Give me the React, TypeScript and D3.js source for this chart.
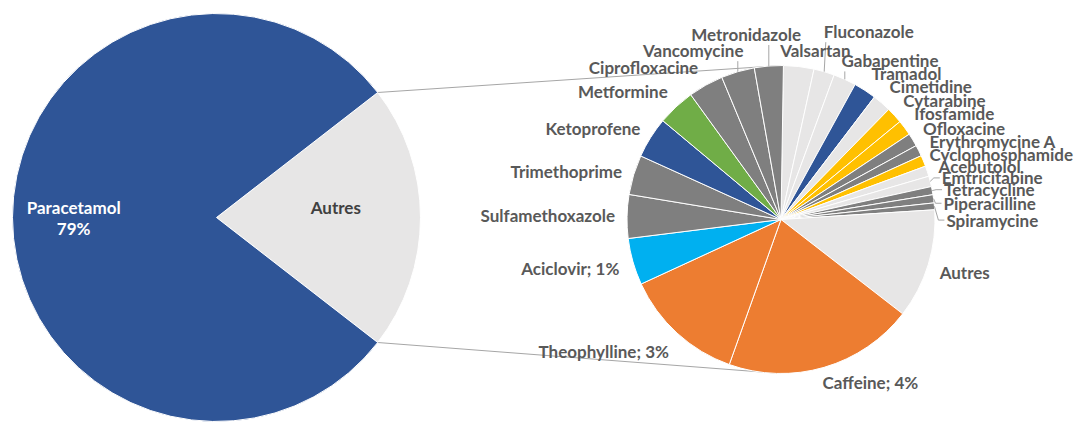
import * as d3 from "d3";

// ---- data -------------------------------------------------------------
const MAIN_NAME = "Paracetamol";
const MAIN_VALUE = 79;
const OTHER_NAME = "Autres";

const DETAIL_NAMES = [
  "Valsartan", "Fluconazole", "Gabapentine", "Tramadol", "Cimetidine",
  "Cytarabine", "Ifosfamide", "Ofloxacine", "Erythromycine A", "Cyclophosphamide",
  "Acebutolol", "Emtricitabine", "Tetracycline", "Piperacilline", "Spiramycine",
  "Autres", "Caffeine", "Theophylline", "Aciclovir", "Sulfamethoxazole",
  "Trimethoprime", "Ketoprofene", "Metformine", "Ciprofloxacine", "Vancomycine",
  "Metronidazole",
];
// share of the whole sample, in %
const DETAIL_VALUES = [
  0.67, 0.455, 0.5, 0.5, 0.41,
  0.36, 0.34, 0.29, 0.245, 0.245,
  0.23, 0.23, 0.18, 0.18, 0.15,
  2.415, 4.19, 2.66, 1.03, 0.96,
  0.875, 0.905, 0.83, 0.775, 0.735,
  0.635,
];
const DETAIL_TONES = [
  "light", "light", "light", "blue", "light",
  "yellow", "yellow", "grey", "grey", "yellow",
  "light", "light", "grey", "grey", "grey",
  "light", "orange", "orange", "cyan", "grey",
  "grey", "blue", "green", "grey", "grey",
  "grey",
];
const SHOW_PCT = ["Caffeine", "Theophylline", "Aciclovir"];

// ---- styles / layout --------------------------------------------------
const PALETTE = {
  blue: "#2F5597",
  light: "#E7E6E6",
  grey: "#7F7F7F",
  yellow: "#FFC000",
  orange: "#ED7D31",
  cyan: "#00B0F0",
  green: "#70AD47",
};

const W = 1077;
const H = 423;
const BIG = { cx: 216.5, cy: 217.5, r: 204 };
const SMALL = { cx: 781, cy: 219.5, r: 154 };
const FONT = "Lato, 'Open Sans', sans-serif";
const FS = 17;
const BOX_H = 14;
const LABEL_GAP = 12;
const LABEL_COLOR = "#595959";
const LINE_COLOR = "#A6A6A6";

// fine tuning of data-label boxes (dx, dy), like dragging them in the original
const NUDGE = {
  Valsartan: [7, 3], Fluconazole: [16, -22], Gabapentine: [0, -1],
  Ofloxacine: [0, 2], "Erythromycine A": [0, 2], Cyclophosphamide: [-5, 3],
  Acebutolol: [0, 3], Emtricitabine: [0, 3], Tetracycline: [0, 4],
  Piperacilline: [-2, 8], Spiramycine: [0, 16], Caffeine: [16, -3],
  Theophylline: [0, 2], Aciclovir: [-2, 0], Trimethoprime: [0, 4],
  Ketoprofene: [0, 4], Ciprofloxacine: [-3, 0], Vancomycine: [-13, -3],
  Metronidazole: [-13, -13],
};
const LEADERS = [
  "Metronidazole", "Vancomycine", "Fluconazole", "Gabapentine",
  "Emtricitabine", "Tetracycline", "Piperacilline", "Spiramycine",
];

const DEG = Math.PI / 180;
const polar = (c, r, a) => [c.cx + r * Math.sin(a), c.cy - r * Math.cos(a)];

let ctx = null;
function textWidth(s) {
  if (!ctx) ctx = document.createElement("canvas").getContext("2d");
  ctx.font = `bold ${FS}px ${FONT}`;
  return ctx.measureText(s).width;
}

export default function App() {
  const otherTotal = d3.sum(DETAIL_VALUES);
  const otherSpan = (otherTotal / (otherTotal + MAIN_VALUE)) * 2 * Math.PI;

  // left pie: "Autres" centred on 3 o'clock
  const mainPie = d3.pie().sort(null).value((d) => d.v)
    .startAngle(Math.PI / 2 - otherSpan / 2)
    .endAngle(Math.PI / 2 - otherSpan / 2 + 2 * Math.PI);
  const mainArcs = mainPie([
    { name: OTHER_NAME, v: otherTotal, fill: PALETTE.light },
    { name: MAIN_NAME, v: MAIN_VALUE, fill: PALETTE.blue },
  ]);
  const bigArc = d3.arc().innerRadius(0).outerRadius(BIG.r);

  // right pie
  const rows = DETAIL_NAMES.map((name, i) => ({
    name, v: DETAIL_VALUES[i], fill: PALETTE[DETAIL_TONES[i]],
  }));
  const detailPie = d3.pie().sort(null).value((d) => d.v)
    .startAngle(0.9 * DEG).endAngle(0.9 * DEG + 2 * Math.PI);
  const detailArcs = detailPie(rows);
  const smallArc = d3.arc().innerRadius(0).outerRadius(SMALL.r);

  const total = otherTotal + MAIN_VALUE;
  const labels = detailArcs.map((a) => {
    const d = a.data;
    const text = SHOW_PCT.includes(d.name)
      ? `${d.name}; ${Math.round((d.v / total) * 100)}%` : d.name;
    const mid = (a.startAngle + a.endAngle) / 2;
    const w = textWidth(text);
    const h = BOX_H;
    const [px, py] = polar(SMALL, SMALL.r + LABEL_GAP, mid);
    const sx = Math.max(-1, Math.min(1, 2 * Math.sin(mid)));
    const sy = Math.max(-1, Math.min(1, 2 * Math.cos(mid)));
    const [nx, ny] = NUDGE[d.name] || [0, 0];
    const x = px + (sx * w) / 2 - w / 2 + nx;
    const y = py - (sy * h) / 2 - h / 2 + ny;
    let leader = null;
    if (LEADERS.includes(d.name)) {
      const [ax, ay] = polar(SMALL, SMALL.r, mid);
      if (Math.abs(Math.sin(mid)) < 0.6) {
        const lx = Math.max(x + 2, Math.min(x + w - 2, ax));
        leader = [[ax, ay], [lx, y + h + 4]];
      } else {
        leader = [[ax, ay], [x - 8, y + h / 2], [x - 2, y + h / 2]];
      }
    }
    return { text, x, y, w, h, leader };
  });

  // connector lines between the two pies
  const o = mainArcs[0];
  const [t0x, t0y] = polar(BIG, BIG.r, o.startAngle);
  const [t1x, t1y] = polar(BIG, BIG.r, o.endAngle);
  const line = d3.line();

  // labels in the left pie
  const mainMid = (mainArcs[1].startAngle + mainArcs[1].endAngle) / 2;
  const [mlx, mly] = polar(BIG, BIG.r * 0.7, mainMid);
  const otherMid = (o.startAngle + o.endAngle) / 2;
  const [olx, oly] = polar(BIG, BIG.r * 0.585, otherMid);

  return (
    <svg width={W} height={H} style={{ position: "absolute", left: 0, top: 0, background: "#fff" }}
      fontFamily={FONT} fontWeight="bold" fontSize={FS}>
      <path d={line([[t0x, t0y], [SMALL.cx, SMALL.cy - SMALL.r]])} stroke={LINE_COLOR} fill="none" />
      <path d={line([[t1x, t1y], [SMALL.cx, SMALL.cy + SMALL.r]])} stroke={LINE_COLOR} fill="none" />

      <g transform={`translate(${BIG.cx},${BIG.cy})`}>
        {mainArcs.map((a) => (
          <path key={a.data.name} d={bigArc(a)} fill={a.data.fill} stroke="#fff" strokeWidth={1} />
        ))}
      </g>
      <text x={mlx} y={mly - 10} fill="#fff" textAnchor="middle" dominantBaseline="central">{MAIN_NAME}</text>
      <text x={mlx} y={mly + 11} fill="#fff" textAnchor="middle" dominantBaseline="central">
        {`${Math.round((MAIN_VALUE / total) * 100)}%`}
      </text>
      <text x={olx} y={oly - 10} fill="#404040" textAnchor="middle" dominantBaseline="central">{OTHER_NAME}</text>

      <g transform={`translate(${SMALL.cx},${SMALL.cy})`}>
        {detailArcs.map((a) => (
          <path key={a.data.name} d={smallArc(a)} fill={a.data.fill} stroke="#fff" strokeWidth={1} />
        ))}
      </g>

      {labels.map((l) => l.leader && (
        <path key={"l" + l.text} d={line(l.leader)} stroke={LINE_COLOR} fill="none" />
      ))}
      {labels.map((l) => (
        <text key={l.text} x={l.x} y={l.y + l.h / 2} fill={LABEL_COLOR} dominantBaseline="central">{l.text}</text>
      ))}
    </svg>
  );
}
